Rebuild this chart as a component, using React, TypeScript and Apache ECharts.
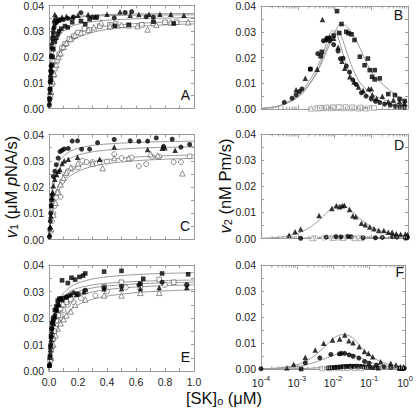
import React, { useEffect, useRef } from 'react';
import * as echarts from 'echarts';

const FONT = "'Liberation Sans', Arial, Helvetica, sans-serif";
const AXIS_COLOR = '#9a9a9a';
const CURVE_COLOR = '#9c9c9c';
const LABEL_COLOR = '#222';

// ---------- Panel A (linear x, v1) ----------
const A_fc = [[0.002,0.0012],[0.004,0.004],[0.006,0.0075],[0.008,0.0105],[0.010,0.0125],[0.012,0.0145],[0.014,0.0165],[0.017,0.0205],[0.020,0.0235],[0.025,0.027],[0.030,0.0295],[0.035,0.0315],[0.040,0.033],[0.050,0.0335],[0.060,0.034],[0.075,0.0345],[0.10,0.0345],[0.13,0.035],[0.17,0.0355],[0.22,0.0372],[0.30,0.0355],[0.45,0.0352],[0.525,0.0373],[0.57,0.0376],[0.67,0.0356],[0.72,0.0355]];
const A_ft = [[0.003,0.0025],[0.006,0.0065],[0.009,0.0105],[0.012,0.0155],[0.016,0.0205],[0.020,0.0255],[0.025,0.0285],[0.030,0.0315],[0.035,0.0345],[0.040,0.0365],[0.050,0.0355],[0.070,0.0345],[0.090,0.0355],[0.12,0.0358],[0.16,0.0355],[0.20,0.0362],[0.27,0.0365],[0.32,0.0355],[0.40,0.0366],[0.49,0.0376],[0.56,0.0362],[0.62,0.0365],[0.69,0.0366],[0.765,0.0366],[0.84,0.0366],[0.93,0.0362]];
const A_fs = [[0.004,0.0035],[0.008,0.0075],[0.012,0.011],[0.016,0.014],[0.020,0.017],[0.025,0.020],[0.030,0.023],[0.040,0.026],[0.050,0.0275],[0.060,0.029],[0.070,0.030],[0.085,0.031],[0.11,0.032],[0.13,0.0315],[0.16,0.0335],[0.22,0.034],[0.25,0.0328],[0.28,0.0347],[0.33,0.0355],[0.455,0.0321],[0.55,0.0325],[0.72,0.0337],[0.86,0.033]];
const A_os = [[0.010,0.0045],[0.020,0.0095],[0.030,0.013],[0.040,0.0155],[0.055,0.0185],[0.070,0.021],[0.090,0.0235],[0.11,0.025],[0.14,0.027],[0.17,0.028],[0.20,0.0295],[0.245,0.031],[0.28,0.0305],[0.35,0.032],[0.42,0.0325],[0.46,0.0328],[0.55,0.0321],[0.64,0.0325],[0.72,0.033],[0.80,0.0335],[0.88,0.0335]];
const A_ot = [[0.015,0.0065],[0.025,0.0105],[0.035,0.0135],[0.050,0.017],[0.065,0.020],[0.080,0.0215],[0.10,0.024],[0.12,0.0255],[0.15,0.027],[0.18,0.0285],[0.22,0.0295],[0.27,0.0305],[0.31,0.0315],[0.36,0.0334],[0.42,0.032],[0.50,0.0325],[0.61,0.032],[0.68,0.0307],[0.74,0.0325],[0.84,0.0335],[0.96,0.0335]];

// fitted curves, sampled at LIN_CURVE_X
const LIN_CURVE_X = [0,0.0025,0.005,0.01,0.02,0.03,0.05,0.075,0.1,0.15,0.2,0.3,0.4,0.6,0.8,1.0];
const A_c1 = [0,0.00886,0.01431,0.02067,0.02657,0.02937,0.03207,0.03361,0.03444,0.03532,0.03577,0.03623,0.03647,0.03671,0.03683,0.0369];
const A_c2 = [0,0.01076,0.01664,0.02288,0.02815,0.0305,0.03268,0.03389,0.03453,0.03519,0.03553,0.03588,0.03606,0.03624,0.03633,0.03638];
const A_c3 = [0,0.004,0.0072,0.012,0.018,0.0216,0.02571,0.02842,0.03,0.03176,0.03273,0.03375,0.03429,0.03484,0.03512,0.03529];
const A_c4 = [0,0.00207,0.00391,0.00704,0.01173,0.01509,0.01956,0.02296,0.02514,0.02779,0.02933,0.03106,0.032,0.033,0.03352,0.03385];
const A_c5 = [0,0.00164,0.00314,0.00575,0.00986,0.01294,0.01725,0.0207,0.023,0.02588,0.0276,0.02957,0.03067,0.03185,0.03247,0.03286];

// ---------- Panel C ----------
const C_fc = [[0.003,0.001],[0.006,0.004],[0.009,0.007],[0.012,0.010],[0.015,0.013],[0.018,0.015],[0.022,0.017],[0.030,0.024],[0.040,0.026],[0.050,0.0285],[0.063,0.031],[0.076,0.0335],[0.09,0.034],[0.105,0.0345],[0.133,0.0347],[0.16,0.0375],[0.197,0.0376],[0.225,0.0344],[0.28,0.0344],[0.335,0.0369],[0.45,0.0381],[0.56,0.0376],[0.62,0.0374],[0.68,0.0375],[0.74,0.0387],[0.79,0.0355],[0.85,0.0382],[0.91,0.0352],[0.97,0.0362]];
const C_ft = [[0.004,0.002],[0.008,0.005],[0.012,0.009],[0.016,0.013],[0.020,0.016],[0.025,0.018],[0.030,0.0205],[0.040,0.023],[0.053,0.0248],[0.065,0.026],[0.076,0.0267],[0.09,0.029],[0.105,0.030],[0.133,0.0306],[0.197,0.0313],[0.35,0.0306],[0.45,0.0352],[0.68,0.0343],[0.78,0.0348],[0.80,0.035],[0.87,0.034]];
const C_oc = [[0.010,0.003],[0.020,0.007],[0.030,0.010],[0.040,0.0128],[0.050,0.016],[0.060,0.018],[0.080,0.0163],[0.09,0.022],[0.11,0.0245],[0.13,0.026],[0.16,0.027],[0.20,0.0275],[0.23,0.030],[0.26,0.0295],[0.30,0.0295],[0.35,0.0295],[0.40,0.0297],[0.45,0.0325],[0.50,0.031],[0.57,0.0312],[0.62,0.028],[0.67,0.0287],[0.71,0.0315],[0.76,0.0315],[0.86,0.0295],[0.91,0.0295],[0.97,0.0317]];
const C_ot = [[0.015,0.004],[0.030,0.0095],[0.045,0.014],[0.060,0.018],[0.080,0.021],[0.10,0.0235],[0.12,0.0255],[0.15,0.0275],[0.20,0.029],[0.30,0.029],[0.37,0.0272],[0.45,0.031],[0.55,0.031],[0.70,0.0325],[0.75,0.032],[0.92,0.0252]];
const C_c1 = [0,0.00424,0.00764,0.01273,0.0191,0.02292,0.02729,0.03016,0.03183,0.03371,0.03473,0.03581,0.03638,0.03697,0.03727,0.03745];
const C_c2 = [0,0.00329,0.00603,0.01034,0.01609,0.01975,0.02413,0.02715,0.02896,0.03103,0.03218,0.03342,0.03407,0.03475,0.0351,0.03532];
const C_c3 = [0,0.00197,0.00372,0.0067,0.01117,0.01436,0.01861,0.02185,0.02393,0.02645,0.02792,0.02956,0.03045,0.03141,0.0319,0.03221];
const C_c4 = [0,0.00155,0.00295,0.00542,0.00929,0.01219,0.01625,0.0195,0.02167,0.02438,0.026,0.02786,0.02889,0.03,0.03059,0.03095];

// ---------- Panel E ----------
const E_fs = [[0.003,0.002],[0.006,0.005],[0.010,0.009],[0.014,0.013],[0.018,0.016],[0.022,0.018],[0.030,0.020],[0.040,0.023],[0.050,0.0243],[0.060,0.0265],[0.070,0.0272],[0.080,0.0274],[0.09,0.0342],[0.13,0.0332],[0.155,0.0352],[0.18,0.0345],[0.21,0.0355],[0.235,0.036],[0.25,0.0368],[0.38,0.0375],[0.50,0.0378],[0.63,0.033],[0.65,0.0348],[0.78,0.0368],[0.96,0.0365]];
const E_os = [[0.008,0.004],[0.015,0.008],[0.025,0.012],[0.035,0.015],[0.050,0.019],[0.065,0.021],[0.080,0.0235],[0.10,0.025],[0.12,0.026],[0.15,0.027],[0.20,0.029],[0.25,0.030],[0.38,0.0318],[0.50,0.0335],[0.63,0.0315],[0.76,0.0345],[0.86,0.0335]];
const E_fc = [[0.003,0.002],[0.008,0.006],[0.012,0.010],[0.016,0.013],[0.020,0.016],[0.025,0.0185],[0.030,0.019],[0.040,0.021],[0.050,0.023],[0.060,0.025],[0.075,0.027],[0.10,0.0275],[0.12,0.028],[0.14,0.0285],[0.17,0.0295],[0.20,0.029],[0.25,0.0305],[0.38,0.0315],[0.50,0.032],[0.62,0.0325],[0.78,0.0335],[0.95,0.0325]];
const E_ft = [[0.005,0.003],[0.010,0.008],[0.015,0.012],[0.020,0.015],[0.030,0.018],[0.040,0.0205],[0.055,0.023],[0.070,0.025],[0.09,0.027],[0.12,0.028],[0.15,0.029],[0.19,0.029],[0.24,0.030],[0.38,0.031],[0.50,0.031],[0.63,0.031],[0.76,0.0315],[0.95,0.0315]];
const E_oc = [[0.010,0.005],[0.020,0.009],[0.030,0.012],[0.045,0.016],[0.060,0.019],[0.080,0.021],[0.10,0.023],[0.13,0.025],[0.17,0.026],[0.22,0.0275],[0.32,0.0285],[0.40,0.030],[0.53,0.0315],[0.80,0.0325],[0.95,0.0325]];
const E_ot = [[0.015,0.005],[0.030,0.010],[0.045,0.0135],[0.060,0.016],[0.080,0.018],[0.10,0.0195],[0.12,0.021],[0.15,0.0225],[0.18,0.025],[0.25,0.027],[0.38,0.0285],[0.50,0.0285],[0.63,0.0295],[0.76,0.0295]];
const E_c1 = [0,0.00294,0.00546,0.00955,0.01528,0.0191,0.02388,0.02729,0.02938,0.03183,0.03322,0.03473,0.03553,0.03638,0.03682,0.03709];
const E_c2 = [0,0.0032,0.00587,0.01006,0.01564,0.0192,0.02347,0.0264,0.02816,0.03017,0.03129,0.03249,0.03313,0.03379,0.03413,0.03434];
const E_c3 = [0,0.00265,0.00493,0.00863,0.0138,0.01725,0.02156,0.02464,0.02654,0.02875,0.03,0.03136,0.03209,0.03286,0.03325,0.0335];
const E_c4 = [0,0.00199,0.00376,0.00676,0.01127,0.01449,0.01878,0.02204,0.02414,0.02668,0.02817,0.02982,0.03073,0.03169,0.03219,0.0325];
const E_c5 = [0,0.0013,0.0025,0.00464,0.00813,0.01083,0.01477,0.01806,0.02031,0.02321,0.025,0.02708,0.02826,0.02955,0.03023,0.03066];

// ---------- Panel B (log x, v2) ----------
const B_fs = [[0.0022,0.0155],[0.0042,0.0205],[0.0045,0.0222],[0.0068,0.0275],[0.0095,0.0285],[0.0117,0.038],[0.0135,0.0295],[0.0155,0.033],[0.021,0.030],[0.024,0.0294],[0.029,0.029],[0.035,0.0268],[0.049,0.0203],[0.066,0.017],[0.081,0.0196],[0.091,0.0151],[0.105,0.0125],[0.124,0.0151],[0.124,0.0115],[0.17,0.0119],[0.29,0.0058],[0.44,0.0054],[0.59,0.0039],[0.81,0.0031]];
const B_fc = [[0.00043,0.0026],[0.0007,0.0042],[0.0009,0.0055],[0.0011,0.0068],[0.0013,0.0078],[0.0022,0.0155],[0.0035,0.0215],[0.005,0.0265],[0.0062,0.0275],[0.0075,0.0265],[0.0095,0.025],[0.0125,0.0225],[0.0145,0.0195],[0.017,0.0197],[0.021,0.0167],[0.0257,0.0143],[0.0316,0.0113],[0.039,0.0095],[0.054,0.0063],[0.072,0.005],[0.10,0.0039],[0.13,0.003],[0.17,0.0025],[0.23,0.0019],[0.33,0.0015],[0.45,0.001],[0.60,0.0008],[0.80,0.0006]];
const B_ft = [[0.0009,0.0075],[0.0016,0.0119],[0.0034,0.0154],[0.0047,0.0348],[0.0058,0.027],[0.0075,0.028],[0.0095,0.0275],[0.0125,0.024],[0.016,0.0185],[0.019,0.0158],[0.026,0.0125],[0.034,0.0105],[0.045,0.0085],[0.06,0.0072],[0.085,0.0079],[0.10,0.0079],[0.107,0.0054],[0.14,0.0041],[0.20,0.005],[0.29,0.0028],[0.40,0.0035],[0.59,0.0028],[0.80,0.0022]];
const B_ot = [[0.0023,0.0002],[0.0035,0.0003],[0.005,0.0004],[0.008,0.0004],[0.012,0.0005],[0.018,0.0004],[0.028,0.0004],[0.045,0.0003],[0.07,0.0003]];
const B_oc = [[0.003,0.0003],[0.0045,0.0005],[0.0065,0.0005],[0.010,0.0006],[0.015,0.0006],[0.022,0.0005],[0.035,0.0005],[0.055,0.0004],[0.09,0.0003]];
const B_os = [[0.004,0.0004],[0.006,0.0006],[0.009,0.0007],[0.013,0.0008],[0.020,0.0008],[0.030,0.0007],[0.050,0.0006],[0.12,0.0004]];

const LOG_CURVE_X = [0.0001,0.000316,0.001,0.00178,0.00316,0.00501,0.00708,0.00891,0.0112,0.0141,0.02,0.0316,0.0501,0.0794,0.126,0.251,0.501,1];
const B_c1 = [0.0002,0.0013,0.0052,0.0095,0.0155,0.022,0.0285,0.0305,0.0295,0.0255,0.018,0.0115,0.0075,0.0052,0.0038,0.0024,0.0015,0.001];
const B_c2 = [0.0002,0.0011,0.0046,0.0085,0.014,0.0205,0.026,0.029,0.0305,0.0295,0.0235,0.0155,0.0102,0.0072,0.0052,0.0033,0.0021,0.0014];
const B_c3 = [0.0002,0.0012,0.0045,0.0082,0.0135,0.0195,0.0245,0.028,0.031,0.0328,0.0325,0.029,0.0235,0.0172,0.0125,0.0085,0.0052,0.0026];

// ---------- Panel D ----------
const D_ft = [[0.00058,0.0012],[0.00085,0.0026],[0.0012,0.0036],[0.0038,0.0088],[0.0085,0.0115],[0.0112,0.0125],[0.0138,0.0122],[0.0162,0.0125],[0.0185,0.0127],[0.0257,0.0111],[0.0316,0.0087],[0.038,0.0083],[0.054,0.0058],[0.069,0.0053],[0.091,0.0044],[0.119,0.0037],[0.16,0.0031],[0.22,0.0031],[0.29,0.0024],[0.37,0.0024],[0.48,0.0018],[0.63,0.0016],[0.85,0.0017],[0.97,0.0014]];
const D_fc = [[0.0012,0.0001],[0.006,0.0005],[0.011,0.0007],[0.015,0.0006],[0.023,0.0008],[0.028,0.0007],[0.06,0.0003],[0.13,0.0003],[0.20,0.0004],[0.38,0.0007],[0.50,0.0005],[0.85,0.0002],[0.95,0.0003]];
const D_oc = [[0.003,0.0002],[0.005,0.0003],[0.008,0.0003],[0.013,0.0004],[0.02,0.0004],[0.03,0.0003],[0.045,0.0003]];
const D_ot = [[0.0025,0.0002],[0.0095,0.0003],[0.017,0.0003],[0.036,0.0002],[0.052,0.0002]];
const D_c1 = [0.0001,0.0005,0.002,0.0036,0.006,0.0086,0.0107,0.0118,0.0125,0.0128,0.0123,0.0102,0.0075,0.0054,0.0038,0.0024,0.0015,0.0009];
const D_c0 = [0,0.00002,0.0001,0.0002,0.0003,0.0004,0.0005,0.0005,0.0006,0.0006,0.0006,0.0006,0.0005,0.0004,0.0004,0.0003,0.0002,0.0002];

// ---------- Panel F ----------
const F_ft = [[0.00052,0.0005],[0.00081,0.0018],[0.0017,0.0045],[0.0032,0.0073],[0.0055,0.0099],[0.0097,0.0112],[0.0153,0.0115],[0.0212,0.0131],[0.0275,0.0109],[0.036,0.0101],[0.053,0.0086],[0.074,0.0067],[0.096,0.006],[0.126,0.0047],[0.21,0.0028],[0.40,0.0022],[0.56,0.0015],[0.75,0.0009],[0.90,0.0009]];
const F_fc = [[0.0001,0.0001],[0.0017,0.0024],[0.0043,0.0043],[0.0087,0.0056],[0.015,0.0058],[0.017,0.006],[0.021,0.006],[0.028,0.0054],[0.036,0.0049],[0.052,0.0042],[0.075,0.0029],[0.10,0.0022],[0.16,0.0015],[0.26,0.0009],[0.40,0.0006],[0.70,0.0004],[0.95,0.0003]];
const F_fs = [[0.0013,0.0000],[0.0075,0.0004],[0.009,0.0005],[0.011,0.0006],[0.013,0.0007],[0.016,0.0008],[0.019,0.0009],[0.023,0.001],[0.027,0.001],[0.032,0.0011],[0.038,0.001],[0.045,0.0011],[0.055,0.001],[0.066,0.0009],[0.08,0.0008],[0.10,0.0007],[0.13,0.0005],[0.18,0.0003],[0.70,0.0001],[0.85,0.0001]];
const F_os = [[0.005,0.0002],[0.008,0.0002],[0.012,0.0003],[0.018,0.0003],[0.025,0.0003],[0.04,0.0003],[0.06,0.0002]];
const F_c1 = [0.0001,0.0004,0.0016,0.003,0.0052,0.0077,0.0097,0.011,0.0121,0.0129,0.0133,0.0124,0.0098,0.0068,0.0045,0.0024,0.0013,0.0007];
const F_c2 = [0.0001,0.0003,0.0009,0.0016,0.0026,0.0036,0.0044,0.0049,0.0054,0.0058,0.006,0.0057,0.0047,0.0034,0.0023,0.0012,0.0006,0.0003];
const F_c3 = [0,0.00003,0.0001,0.0002,0.0004,0.0006,0.0007,0.0008,0.0009,0.001,0.001,0.001,0.0009,0.0007,0.0005,0.0003,0.0002,0.0001];

// axis ticks
const LIN_X_TICKS = { min: 0, max: 1, interval: 0.2 };
const Y_TICKS = { min: 0, max: 0.04, interval: 0.01 };
const LOG_MINOR = [0.0002,0.0003,0.0004,0.0005,0.0006,0.0007,0.0008,0.0009,0.002,0.003,0.004,0.005,0.006,0.007,0.008,0.009,0.02,0.03,0.04,0.05,0.06,0.07,0.08,0.09,0.2,0.3,0.4,0.5,0.6,0.7,0.8,0.9];

const PANEL_LETTERS = ['A', 'B', 'C', 'D', 'E', 'F'];

// layout: A, B, C, D, E, F
const GRIDS = [
  { left: 49, top: 5, width: 145, height: 103.5 },
  { left: 261, top: 6, width: 147, height: 103 },
  { left: 49, top: 134.5, width: 145, height: 105 },
  { left: 261, top: 134, width: 147, height: 104.5 },
  { left: 49, top: 265, width: 145, height: 106 },
  { left: 261, top: 265, width: 147, height: 104 },
];
const LETTER_POS = [
  [190, 102], [403, 21.5], [190, 232.5], [404, 151.5], [190, 363.5], [404, 278.5],
];

function buildOption() {
  const lineStyle = { color: AXIS_COLOR, width: 1 };
  const tickBase = { show: true, inside: true, length: 3, lineStyle };
  const labelBase = { color: LABEL_COLOR, fontSize: 10.5, fontFamily: FONT };

  const xAxis: any[] = [];
  const yAxis: any[] = [];
  const series: any[] = [];

  const isLog = (gi: number) => gi % 2 === 1;

  GRIDS.forEach((_, gi) => {
    const showX = gi === 4 || gi === 5;
    if (isLog(gi)) {
      const base = {
        type: 'log', logBase: 10, gridIndex: gi, min: 0.0001, max: 1,
        splitLine: { show: false },
        axisLine: { show: true, onZero: false, lineStyle },
        axisTick: { ...tickBase, length: 4 },
      };
      xAxis.push({
        ...base, position: 'bottom',
        axisLabel: {
          show: showX, margin: 5,
          formatter: (v: number) => `{b|10}{s|${Math.round(Math.log10(v))}}`,
          rich: {
            b: { ...labelBase, lineHeight: 14, verticalAlign: 'bottom' },
            s: { ...labelBase, fontSize: 7.5, lineHeight: 8, verticalAlign: 'top' },
          },
        },
      });
      xAxis.push({ ...base, position: 'top', axisLabel: { show: false } });
    } else {
      const base = {
        type: 'value', gridIndex: gi, ...LIN_X_TICKS,
        splitLine: { show: false },
        axisLine: { show: true, onZero: false, lineStyle },
        axisTick: tickBase,
        minorTick: { show: true, splitNumber: 2, length: 3, lineStyle },
      };
      xAxis.push({
        ...base, position: 'bottom',
        axisLabel: { show: showX, margin: 5, ...labelBase, formatter: (v: number) => v.toFixed(1) },
      });
      xAxis.push({ ...base, position: 'top', axisLabel: { show: false } });
    }
    const yb = {
      type: 'value', gridIndex: gi, ...Y_TICKS,
      splitLine: { show: false },
      axisLine: { show: true, onZero: false, lineStyle },
      axisTick: tickBase,
      minorTick: { show: true, splitNumber: 2, length: 3, lineStyle },
    };
    yAxis.push({
      ...yb, position: 'left',
      axisLabel: { show: true, margin: 5, ...labelBase, formatter: (v: number) => v.toFixed(2) },
    });
    yAxis.push({ ...yb, position: 'right', axisLabel: { show: false } });
  });

  const curve = (gi: number, xs: number[], ys: number[]) => {
    series.push({
      type: 'line', xAxisIndex: 2 * gi, yAxisIndex: 2 * gi,
      data: xs.map((x, i) => [x, ys[i]]),
      symbol: 'none', showSymbol: false, smooth: 0.3, silent: true, z: 2,
      lineStyle: { color: CURVE_COLOR, width: 1 },
    });
  };
  const points = (gi: number, data: number[][], shape: string, filled: boolean, edge = '#4a4a4a') => {
    const size = shape === 'triangle' ? 5.5 : shape === 'rect' ? 4.6 : 5;
    series.push({
      type: 'scatter', xAxisIndex: 2 * gi, yAxisIndex: 2 * gi,
      data, symbol: shape, symbolSize: size, silent: true, z: filled ? 4 : 3,
      itemStyle: filled
        ? { color: '#000' }
        : { color: '#fff', borderColor: edge, borderWidth: 0.75 },
    });
  };

  // A
  [A_c1, A_c2, A_c3, A_c4, A_c5].forEach((c) => curve(0, LIN_CURVE_X, c));
  points(0, A_os, 'rect', false);
  points(0, A_ot, 'triangle', false);
  points(0, A_fs, 'rect', true);
  points(0, A_ft, 'triangle', true);
  points(0, A_fc, 'circle', true);
  // C
  [C_c1, C_c2, C_c3, C_c4].forEach((c) => curve(2, LIN_CURVE_X, c));
  points(2, C_oc, 'circle', false);
  points(2, C_ot, 'triangle', false);
  points(2, C_ft, 'triangle', true);
  points(2, C_fc, 'circle', true);
  // E
  [E_c1, E_c2, E_c3, E_c4, E_c5].forEach((c) => curve(4, LIN_CURVE_X, c));
  points(4, E_ot, 'triangle', false);
  points(4, E_oc, 'circle', false);
  points(4, E_os, 'rect', false);
  points(4, E_ft, 'triangle', true);
  points(4, E_fc, 'circle', true);
  points(4, E_fs, 'rect', true);
  // B
  [B_c1, B_c2, B_c3].forEach((c) => curve(1, LOG_CURVE_X, c));
  points(1, B_ot, 'triangle', false, '#888');
  points(1, B_oc, 'circle', false, '#888');
  points(1, B_os, 'rect', false, '#888');
  points(1, B_fs, 'rect', true);
  points(1, B_ft, 'triangle', true);
  points(1, B_fc, 'circle', true);
  // D
  [D_c1, D_c0].forEach((c) => curve(3, LOG_CURVE_X, c));
  points(3, D_oc, 'circle', false, '#888');
  points(3, D_ot, 'triangle', false, '#888');
  points(3, D_fc, 'circle', true);
  points(3, D_ft, 'triangle', true);
  // F
  [F_c1, F_c2, F_c3].forEach((c) => curve(5, LOG_CURVE_X, c));
  points(5, F_os, 'rect', false, '#888');
  points(5, F_fs, 'rect', true);
  points(5, F_fc, 'circle', true);
  points(5, F_ft, 'triangle', true);

  // log minor ticks (top and bottom) for B, D, F
  [1, 3, 5].forEach((gi) => {
    series.push({
      type: 'custom', xAxisIndex: 2 * gi, yAxisIndex: 2 * gi,
      data: LOG_MINOR.map((v) => [v, 0]), encode: { x: 0, y: 1 },
      silent: true, clip: false, z: 5,
      renderItem: (params: any, api: any) => {
        const v = api.value(0);
        const b = api.coord([v, Y_TICKS.min]);
        const t = api.coord([v, Y_TICKS.max]);
        return {
          type: 'group',
          children: [
            { type: 'line', shape: { x1: b[0], y1: b[1], x2: b[0], y2: b[1] - 2.5 }, style: { stroke: AXIS_COLOR, lineWidth: 1 } },
            { type: 'line', shape: { x1: t[0], y1: t[1], x2: t[0], y2: t[1] + 2.5 }, style: { stroke: AXIS_COLOR, lineWidth: 1 } },
          ],
        };
      },
    });
  });

  const titleRich = {
    n: { fontSize: 16.5, fontFamily: FONT, fill: '#111', lineHeight: 20, verticalAlign: 'bottom' },
    i: { fontSize: 16.5, fontFamily: FONT, fontStyle: 'italic', fill: '#111', lineHeight: 20, verticalAlign: 'bottom' },
    sub: { fontSize: 11, fontFamily: FONT, fill: '#111', lineHeight: 12, verticalAlign: 'bottom' },
  };

  const graphic: any[] = PANEL_LETTERS.map((L, i) => ({
    type: 'text', x: LETTER_POS[i][0], y: LETTER_POS[i][1], silent: true,
    style: { text: L, fill: '#111', font: `14px ${FONT}`, align: 'right', verticalAlign: 'bottom' },
  }));
  graphic.push({
    type: 'text', x: 9, y: 187, rotation: Math.PI / 2, silent: true,
    style: { text: '{i|v}{sub|1}{n| (μM }{i|p}{n|NA/s)}', rich: titleRich, align: 'center', verticalAlign: 'middle' },
  });
  graphic.push({
    type: 'text', x: 223, y: 186, rotation: Math.PI / 2, silent: true,
    style: { text: '{i|v}{sub|2}{n| (nM Pm/s)}', rich: titleRich, align: 'center', verticalAlign: 'middle' },
  });
  graphic.push({
    type: 'text', x: 224, y: 396, silent: true,
    style: { text: '{n|[SK]}{sub|o}{n| (μM)}', rich: titleRich, align: 'center', verticalAlign: 'middle' },
  });

  return {
    animation: false,
    backgroundColor: '#fff',
    textStyle: { fontFamily: FONT },
    grid: GRIDS.map((g) => ({ ...g, containLabel: false })),
    xAxis,
    yAxis,
    series,
    graphic,
  };
}

export default function App() {
  const ref = useRef<HTMLDivElement>(null);
  useEffect(() => {
    document.body.style.margin = '0';
    const chart = echarts.init(ref.current as HTMLDivElement, null, { renderer: 'svg' });
    chart.setOption(buildOption() as any);
    return () => chart.dispose();
  }, []);
  return (
    <div
      ref={ref}
      style={{ position: 'absolute', left: 0, top: 0, width: 416, height: 412, background: '#fff' }}
    />
  );
}
